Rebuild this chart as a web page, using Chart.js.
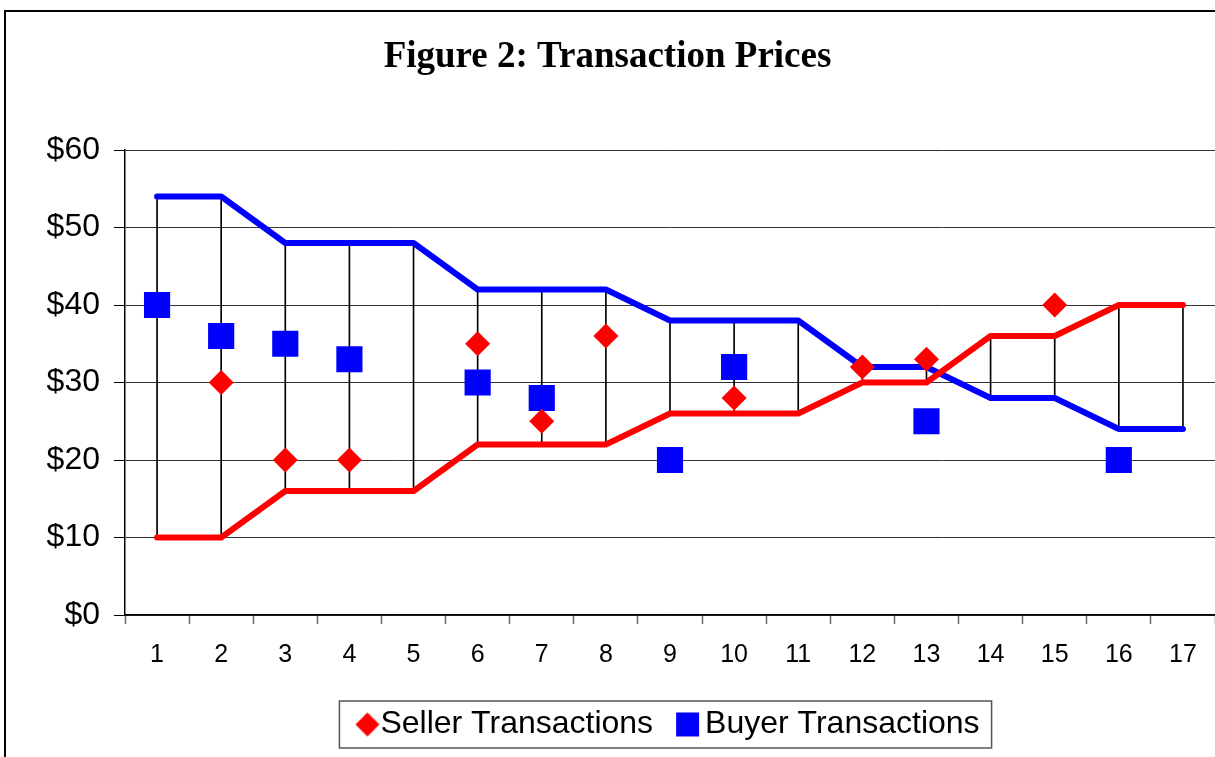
<!DOCTYPE html>
<html>
<head>
<meta charset="utf-8">
<title>Figure 2: Transaction Prices</title>
<script src="https://cdn.jsdelivr.net/npm/chart.js@4/dist/chart.umd.min.js"></script>
<style>
  html, body { margin: 0; padding: 0; background: #fff; }
  #wrap { position: relative; width: 1215px; height: 757px; }
</style>
</head>
<body>
<div id="wrap"><canvas id="chart" width="1215" height="757"></canvas></div>
<script>
const rounds = ["1", "2", "3", "4", "5", "6", "7", "8", "9", "10", "11", "12", "13", "14", "15", "16", "17"];

// buyer values (blue line) and seller costs (red line)
const buyerValues = [54, 54, 48, 48, 48, 42, 42, 42, 38, 38, 38, 32, 32, 28, 28, 24, 24];
const sellerCosts = [10, 10, 16, 16, 16, 22, 22, 22, 26, 26, 26, 30, 30, 36, 36, 40, 40];

// transaction prices (null = none that round)
const sellerTrades = [null, 30, 20, 20, null, 35, 25, 36, null, 28, null, 32, 33, null, 40, null, null];
const buyerTrades = [40, 36, 35, 33, null, 30, 28, null, 20, 32, null, null, 25, null, null, 20, null];

const yTicks = [0, 10, 20, 30, 40, 50, 60];

const red = "#ff0000";
const blue = "#0000ff";

// thin vertical lines between the two curves
const spread = sellerCosts.map((c, i) => [Math.min(c, buyerValues[i]), Math.max(c, buyerValues[i])]);

function markerCanvas(kind, color) {
  const c = document.createElement("canvas");
  c.width = 40;
  c.height = 40;
  const g = c.getContext("2d");
  g.fillStyle = color;
  if (kind === "diamond") {
    const cx = 25, cy = 20, r = 12;
    g.beginPath();
    g.moveTo(cx - r, cy);
    g.lineTo(cx, cy - r);
    g.lineTo(cx + r, cy);
    g.lineTo(cx, cy + r);
    g.closePath();
    g.fill();
  } else {
    g.fillRect(9, 8, 23, 24);
  }
  return c;
}

const legendMarks = {
  "Seller Transactions": markerCanvas("diamond", red),
  "Buyer Transactions": markerCanvas("square", blue),
};

const frame = {
  id: "frame",
  beforeDraw(chart) {
    const ctx = chart.ctx;
    ctx.save();
    ctx.strokeStyle = "#000";
    ctx.lineWidth = 2;
    ctx.beginPath();
    ctx.moveTo(5, 800);
    ctx.lineTo(5, 11);
    ctx.lineTo(1300, 11);
    ctx.stroke();
    ctx.restore();
  },
  afterDraw(chart) {
    const boxes = chart.legend.legendHitBoxes;
    if (!boxes || !boxes.length) return;
    const first = boxes[0];
    const last = boxes[boxes.length - 1];
    const left = first.left - 21;
    const right = last.left + last.width + 12;
    const cy = first.top + first.height / 2;
    const ctx = chart.ctx;
    ctx.save();
    ctx.strokeStyle = "#555";
    ctx.lineWidth = 1.5;
    ctx.strokeRect(left, cy - 23.5, right - left, 47);
    ctx.restore();
  },
};

new Chart(document.getElementById("chart"), {
  data: {
    labels: rounds,
    datasets: [
      {
        type: "line",
        label: "Seller Transactions",
        data: sellerTrades,
        showLine: false,
        pointStyle: "rectRot",
        pointRadius: 12.5,
        pointHoverRadius: 12.5,
        pointBackgroundColor: red,
        pointBorderWidth: 0,
        backgroundColor: red,
        borderColor: red,
      },
      {
        type: "line",
        label: "Buyer Transactions",
        data: buyerTrades,
        showLine: false,
        pointStyle: "rect",
        pointRadius: 18.5,
        pointHoverRadius: 18.5,
        pointBackgroundColor: blue,
        pointBorderWidth: 0,
        backgroundColor: blue,
        borderColor: blue,
      },
      {
        type: "line",
        label: "Costs",
        data: sellerCosts,
        borderColor: red,
        borderWidth: 6,
        borderCapStyle: "round",
        borderJoinStyle: "round",
        pointRadius: 0,
        tension: 0,
      },
      {
        type: "line",
        label: "Values",
        data: buyerValues,
        borderColor: blue,
        borderWidth: 6,
        borderCapStyle: "round",
        borderJoinStyle: "round",
        pointRadius: 0,
        tension: 0,
      },
      {
        type: "bar",
        label: "Spread",
        data: spread,
        backgroundColor: "#000",
        barThickness: 1,
        grouped: false,
      },
    ],
  },
  options: {
    responsive: false,
    animation: false,
    layout: {
      autoPadding: false,
      padding: { left: 0, right: 0, top: 0, bottom: 6.5 },
    },
    plugins: {
      title: {
        display: true,
        text: "Figure 2: Transaction Prices",
        color: "#000",
        font: { family: "'Liberation Serif', 'Times New Roman', serif", size: 37, weight: "bold", lineHeight: 1.2 },
        padding: { top: 35, bottom: 70.6 },
      },
      legend: {
        position: "bottom",
        fullSize: false,
        labels: {
          color: "#000",
          font: { family: "'Liberation Sans', Arial, sans-serif", size: 32 },
          usePointStyle: true,
          boxWidth: 4,
          boxHeight: 4,
          padding: 32,
          filter: (item) => item.text === "Seller Transactions" || item.text === "Buyer Transactions",
          generateLabels: (chart) => {
            const items = Chart.defaults.plugins.legend.labels.generateLabels(chart);
            items.forEach((it) => {
              if (legendMarks[it.text]) it.pointStyle = legendMarks[it.text];
            });
            return items;
          },
        },
      },
      tooltip: { enabled: false },
    },
    scales: {
      x: {
        offset: true,
        afterFit: (scale) => {
          scale.height = 61.5;
        },
        grid: {
          offset: true,
          drawOnChartArea: false,
          drawTicks: true,
          tickLength: 9,
          tickColor: "#666",
          tickWidth: 1.5,
        },
        border: { color: "#000", width: 1.5 },
        ticks: {
          color: "#000",
          padding: 16,
          maxRotation: 0,
          autoSkip: false,
          font: { family: "'Liberation Sans', Arial, sans-serif", size: 25 },
        },
      },
      y: {
        min: 0,
        max: 60,
        afterFit: (scale) => {
          scale.width = 125;
        },
        afterBuildTicks: (scale) => {
          const t = [];
          for (let v = 0; v <= 60; v += 5) t.push({ value: v });
          scale.ticks = t;
        },
        grid: {
          color: "#333",
          lineWidth: 1,
          tickLength: 11,
          tickColor: (ctx) => (ctx.tick && yTicks.includes(ctx.tick.value) ? "#000" : "rgba(0,0,0,0)"),
        },
        border: { color: "#000", width: 1.5 },
        ticks: {
          color: "#000",
          padding: 14,
          font: { family: "'Liberation Sans', Arial, sans-serif", size: 32 },
          callback: (v) => (yTicks.includes(v) ? "$" + v : ""),
        },
      },
    },
  },
  plugins: [frame],
});
</script>
</body>
</html>
